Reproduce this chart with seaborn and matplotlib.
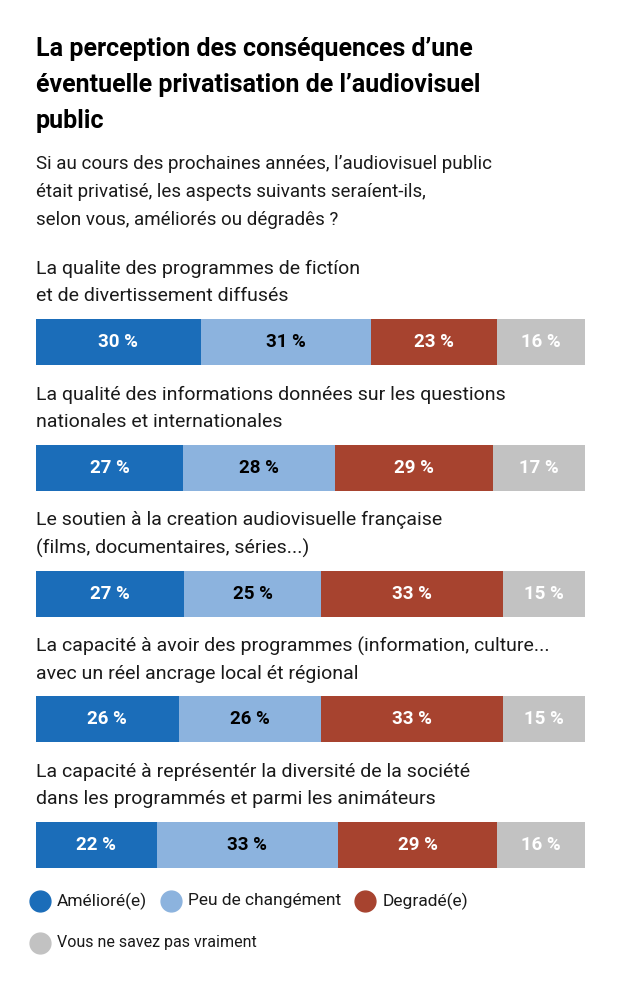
import seaborn as sns
import numpy as np
import pandas as pd
import matplotlib.pyplot as plt
from matplotlib.lines import Line2D

# data
categories = [
    "La qualite des programmes de fictíon\net de divertissement diffusés",
    "La qualité des informations données sur les questions\nnationales et internationales",
    "Le soutien à la creation audiovisuelle française\n(films, documentaires, séries...)",
    "La capacité à avoir des programmes (information, culture...\navec un réel ancrage local ét régional",
    "La capacité à représentér la diversité de la société\ndans les programmés et parmi les animáteurs",
]
ameliore = [30, 27, 27, 26, 22]
peu_change = [31, 28, 25, 26, 33]
degrade = [23, 29, 33, 33, 29]
ne_sait_pas = [16, 17, 15, 15, 16]
series_names = ["Amélioré(e)", "Peu de changément", "Degradé(e)", "Vous ne savez pas vraiment"]
colors = ["#1b6db9", "#8cb3de", "#a7432f", "#c2c2c2"]
label_colors = ["white", "black", "white", "white"]

sns.set_theme(style="white")
plt.rcParams['font.family'] = ['Roboto', 'DejaVu Sans']

df = pd.DataFrame({"cat": categories, "a": ameliore, "b": peu_change,
                   "c": degrade, "d": ne_sait_pas})
vals = df[["a", "b", "c", "d"]].to_numpy(dtype=float)
tot = vals.sum(axis=1, keepdims=True)
share = vals / tot * 100
cum = np.cumsum(share, axis=1)
for j in range(4):
    df[f"cum{j}"] = cum[:, j]

fig = plt.figure(figsize=(6.22, 10), dpi=100)
ax = fig.add_axes([36 / 622, 0.132, 549 / 622, 0.618])

bar_w = 0.366
# stacked bars: draw cumulative totals from the back to the front
for j in [3, 2, 1, 0]:
    sns.barplot(data=df, x=f"cum{j}", y="cat", orient="h", color=colors[j],
                saturation=1, width=bar_w, linewidth=0, ax=ax)

for i in range(len(categories)):
    for j in range(4):
        start = cum[i, j] - share[i, j]
        ax.text(start + share[i, j] / 2, i, f"{int(vals[i, j])}\u202f%",
                ha="center", va="center", color=label_colors[j],
                fontsize=13.5, fontweight="bold")
    ax.text(0, i - bar_w / 2 - 0.29, categories[i], ha="left", va="center",
            fontsize=14, color="#1a1a1a", linespacing=1.65)

ax.set_xlim(0, 100)
ax.set_ylim(4 + bar_w / 2, -0.732)
ax.axis("off")

fig.text(36 / 622, 1 - 0.037,
         "La perception des conséquences d’une\néventuelle privatisation de l’audiovisuel\npublic",
         ha="left", va="top", fontsize=18, fontweight="bold", color="black",
         linespacing=1.62)
fig.text(36 / 622, 1 - 0.155,
         "Si au cours des prochaines années, l’audiovisuel public\nétait privatisé, les aspects suivants seraíent-ils,\nselon vous, améliorés ou dégradês ?",
         ha="left", va="top", fontsize=13.5, color="#1a1a1a", linespacing=1.72)

# legend drawn by hand: three on the first row, one below
fig.canvas.draw()
renderer = fig.canvas.get_renderer()
rows = [(901, [0, 1, 2]), (943, [3])]
for cy, items in rows:
    x = 40
    for j in items:
        fig.add_artist(Line2D([x / 622], [1 - cy / 1000], marker="o", markersize=15,
                              color=colors[j], linestyle="none",
                              transform=fig.transFigure))
        t = fig.text((x + 17) / 622, 1 - cy / 1000, series_names[j], ha="left",
                     va="center", fontsize=12.5 if j < 3 else 11.5, color="#1a1a1a")
        bb = t.get_window_extent(renderer)
        x = bb.x1 + 24

fig.savefig("out.png", dpi=100, facecolor="white")
